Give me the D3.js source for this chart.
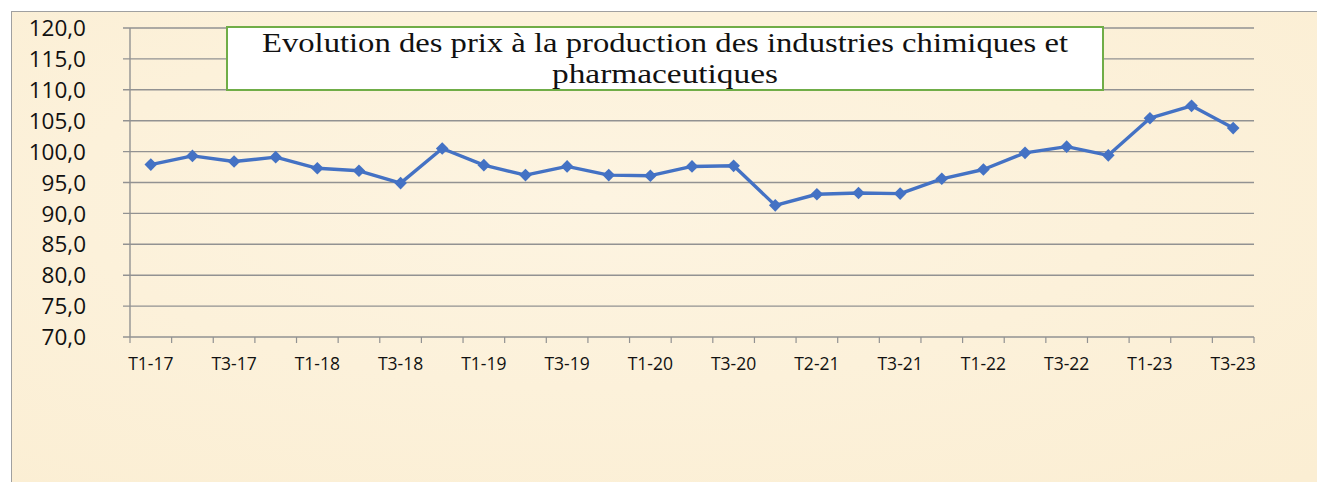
<!DOCTYPE html>
<html><head><meta charset="utf-8">
<script src="https://cdn.jsdelivr.net/npm/d3@7"></script>
<style>
html,body{margin:0;padding:0;background:#fff;}
svg{display:block;}
</style></head>
<body>
<svg id="chart" width="1317" height="482"></svg>
<script>
const categories = ["T1-17","T2-17","T3-17","T4-17","T1-18","T2-18","T3-18","T4-18","T1-19","T2-19","T3-19","T4-19","T1-20","T2-20","T3-20","T4-20","T2-21","T2-21b","T3-21","T4-21","T1-22","T2-22","T3-22","T4-22","T1-23","T2-23","T3-23"];
const values = [97.9,99.3,98.4,99.1,97.3,96.9,94.9,100.5,97.8,96.2,97.6,96.2,96.1,97.6,97.7,91.3,93.1,93.3,93.2,95.6,97.1,99.8,100.8,99.4,105.4,107.4,103.8];
const yTicks = [70,75,80,85,90,95,100,105,110,115,120];
const titleLines = ["Evolution des prix à la production des industries chimiques et","pharmaceutiques"];

const svg = d3.select("#chart");
const W = 1317, H = 482;

// background
const defs = svg.append("defs");
const g1 = defs.append("radialGradient").attr("id","paper").attr("cx","45%").attr("cy","40%").attr("r","80%");
g1.append("stop").attr("offset","0%").attr("stop-color","#fdf4e1");
g1.append("stop").attr("offset","100%").attr("stop-color","#fbeed3");
svg.append("rect").attr("x",11).attr("y",11).attr("width",W-11).attr("height",H-11).attr("fill","url(#paper)");
svg.append("line").attr("x1",11).attr("x2",W).attr("y1",11.5).attr("y2",11.5).attr("stroke","#a0a0a0").attr("stroke-width",1);
svg.append("line").attr("x1",11.5).attr("x2",11.5).attr("y1",11).attr("y2",H).attr("stroke","#a0a0a0").attr("stroke-width",1);

const x0 = 130, x1 = 1254, yTop = 28, yBot = 337;
const x = d3.scaleBand().domain(d3.range(categories.length)).range([x0,x1]).padding(0);
const y = d3.scaleLinear().domain([70,120]).range([yBot,yTop]);

// gridlines
svg.append("g").selectAll("line").data(yTicks).join("line")
  .attr("x1",123).attr("x2",x1).attr("y1",d=>y(d)).attr("y2",d=>y(d))
  .attr("stroke","#929292").attr("stroke-width",1.4);

// y axis line
svg.append("line").attr("x1",x0).attr("x2",x0).attr("y1",yTop).attr("y2",yBot).attr("stroke","#929292").attr("stroke-width",1.4);

// y labels
const fmt = d => d3.format(".1f")(d).replace(".",",");
svg.append("g").selectAll("text").data(yTicks).join("text")
  .attr("x",86).attr("y",d=>y(d)).attr("dy","0.36em").attr("text-anchor","end")
  .attr("font-family","Open Sans, Liberation Sans, sans-serif").attr("font-size",22.5).attr("fill","#111")
  .text(fmt);

// x ticks
const tickPos = d3.range(categories.length+1).map(i => i<categories.length ? x(i) : x1);
svg.append("g").selectAll("line").data(tickPos).join("line")
  .attr("x1",d=>d).attr("x2",d=>d).attr("y1",yBot).attr("y2",yBot+6)
  .attr("stroke","#929292").attr("stroke-width",1.2);

// x labels
svg.append("g").selectAll("text").data(categories.map((c,i)=>({c,i})).filter(d=>d.i%2===0)).join("text")
  .attr("x",d=>x(d.i)+x.bandwidth()/2).attr("y",364).attr("dy","0.36em").attr("text-anchor","middle")
  .attr("font-family","Open Sans, Liberation Sans, sans-serif").attr("font-size",17.5).attr("fill","#111")
  .text(d=>d.c);

// line
const line = d3.line().x((d,i)=>x(i)+x.bandwidth()/2).y(d=>y(d));
svg.append("path").datum(values).attr("d",line).attr("fill","none").attr("stroke","#4472c4").attr("stroke-width",3.4).attr("stroke-linejoin","round");

// markers
svg.append("g").selectAll("path").data(values).join("path")
  .attr("transform",(d,i)=>`translate(${x(i)+x.bandwidth()/2},${y(d)}) rotate(45)`)
  .attr("d",d3.symbol(d3.symbolSquare, 80)())
  .attr("fill","#4472c4");

// title box
svg.append("rect").attr("x",227).attr("y",27).attr("width",876).attr("height",63)
  .attr("fill","#fff").attr("stroke","#70ad47").attr("stroke-width",2);
svg.append("g").selectAll("text").data(titleLines).join("text")
  .attr("x",665).attr("y",(d,i)=>51.5+i*31.5).attr("text-anchor","middle")
  .attr("font-family","Liberation Serif, DejaVu Serif, serif").attr("font-size",27.5).attr("fill","#111")
  .attr("textLength",(d,i)=>i===0?806:226).attr("lengthAdjust","spacingAndGlyphs")
  .text(d=>d);
</script>
</body></html>
